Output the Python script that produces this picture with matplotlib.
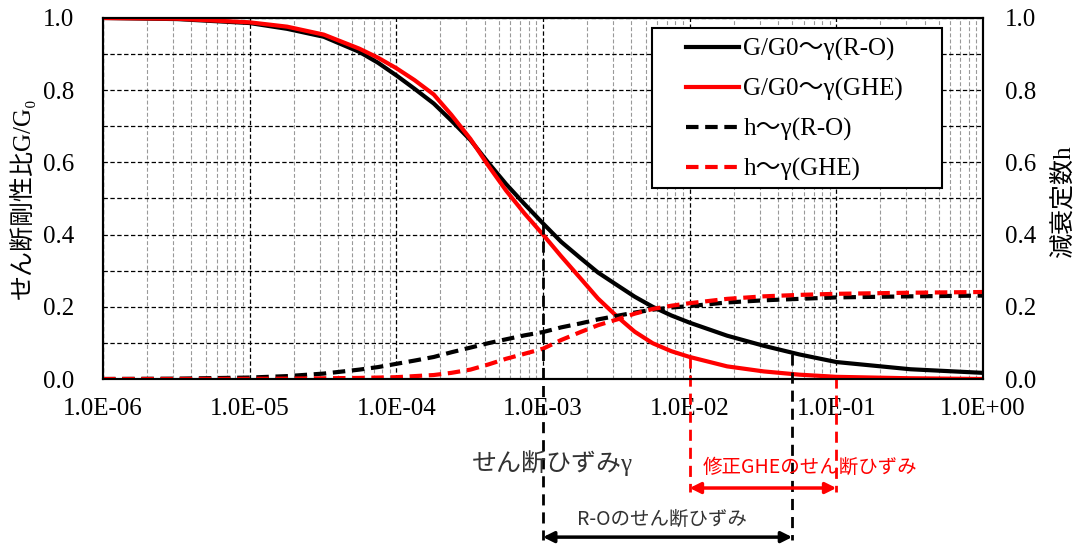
import numpy as np
import matplotlib
matplotlib.use("Agg")
import matplotlib.pyplot as plt
from matplotlib.ticker import FuncFormatter, FixedLocator, MultipleLocator, NullFormatter
from matplotlib.lines import Line2D
from matplotlib.patches import Rectangle

plt.rcParams['font.family'] = ['Liberation Serif', 'Noto Sans CJK JP', 'DejaVu Serif']

# shear strain
strain = [1.0e-6, 3.2e-6, 1.0e-5, 1.8e-5, 3.2e-5, 5.6e-5, 7.5e-5, 1.0e-4, 1.33e-4, 1.8e-4,
          2.37e-4, 3.2e-4, 4.22e-4, 5.6e-4, 7.5e-4, 1.0e-3, 1.33e-3, 1.8e-3, 2.37e-3, 3.2e-3,
          4.22e-3, 5.6e-3, 7.5e-3, 1.0e-2, 1.8e-2, 3.2e-2, 5.6e-2, 1.0e-1, 3.2e-1, 1.0]

g_ro = [1.000, 0.997, 0.986, 0.970, 0.948, 0.906, 0.876, 0.841, 0.804, 0.763,
        0.716, 0.662, 0.600, 0.540, 0.484, 0.431, 0.380, 0.335, 0.295, 0.260,
        0.228, 0.200, 0.176, 0.156, 0.120, 0.092, 0.068, 0.047, 0.027, 0.017]
g_ghe = [1.000, 0.998, 0.988, 0.976, 0.954, 0.915, 0.890, 0.861, 0.828, 0.788,
         0.732, 0.665, 0.592, 0.522, 0.458, 0.400, 0.340, 0.279, 0.223, 0.173,
         0.131, 0.099, 0.077, 0.061, 0.035, 0.021, 0.012, 0.006, 0.002, 0.000]
h_ro = [0.000, 0.001, 0.004, 0.008, 0.015, 0.026, 0.033, 0.042, 0.051, 0.061,
        0.074, 0.087, 0.099, 0.110, 0.121, 0.130, 0.143, 0.154, 0.165, 0.175,
        0.184, 0.192, 0.198, 0.202, 0.212, 0.218, 0.222, 0.226, 0.229, 0.231]
h_ghe = [0.000, 0.000, 0.0005, 0.001, 0.002, 0.003, 0.004, 0.005, 0.008, 0.011,
         0.017, 0.026, 0.040, 0.056, 0.070, 0.084, 0.108, 0.130, 0.149, 0.165,
         0.181, 0.194, 0.203, 0.210, 0.222, 0.229, 0.233, 0.236, 0.239, 0.241]

labels = ['G/G0～γ(R-O)', 'G/G0～γ(GHE)', 'h～γ(R-O)', 'h～γ(GHE)']

# strain ranges marked under the chart, with the G/G0 level where each marker starts
ro_range = [1.0e-3, 5.0e-2]
ro_level = [0.431, 0.069]
ghe_range = [1.0e-2, 1.0e-1]
ghe_level = [0.061, 0.006]

W, H = 1080, 544
fig = plt.figure(figsize=(W / 100, H / 100), dpi=100)
ax = fig.add_axes([103 / W, 1 - 379 / H, 880 / W, 361 / H])
ax2 = ax.twinx()

ax.set_xscale('log')
ax.set_xlim(1e-6, 1.0)
ax.set_ylim(0, 1.0)
ax2.set_ylim(0, 1.0)

decades = [10.0 ** k for k in range(-6, 1)]
minors = [m * d for d in decades[:-1] for m in range(2, 10)]
ax.xaxis.set_major_locator(FixedLocator(decades))
ax.xaxis.set_minor_locator(FixedLocator(minors))
ax.xaxis.set_major_formatter(FuncFormatter(lambda v, p: f"{v:.1E}"))
ax.xaxis.set_minor_formatter(NullFormatter())
for a in (ax, ax2):
    a.yaxis.set_major_locator(MultipleLocator(0.2))
    a.yaxis.set_minor_locator(MultipleLocator(0.1))
    a.yaxis.set_major_formatter(FuncFormatter(lambda v, p: f"{v:.1f}"))
    a.yaxis.set_minor_formatter(NullFormatter())

ax.tick_params(axis='x', which='both', length=0, labelsize=18, pad=14)
ax.tick_params(axis='y', which='both', length=0, labelsize=18, pad=21)
ax2.tick_params(axis='y', which='both', length=0, labelsize=18, pad=16)

ax.grid(True, axis='y', which='both', color='black', lw=0.9, ls=(0, (3.5, 2)))
ax.grid(True, axis='x', which='major', color='black', lw=0.9, ls=(0, (3.5, 2)))
ax.grid(True, axis='x', which='minor', color='#999999', lw=0.8, ls=(0, (3.5, 2)))
for a in (ax, ax2):
    for s in a.spines.values():
        s.set_linewidth(1.5)
        s.set_color('black')

dash = (0, (3, 1.6))
ax2.plot(strain, g_ro, color='black', lw=3)
ax2.plot(strain, g_ghe, color='red', lw=3)
ax2.plot(strain, h_ro, color='black', lw=3, ls=dash)
ax2.plot(strain, h_ghe, color='red', lw=3, ls=dash)

# range markers below the axis
y_ro_bot, y_ghe_bot = -0.446, -0.313
y_ro_arrow, y_ghe_arrow = -0.438, -0.302
for xv, lv in zip(ro_range, ro_level):
    ax2.plot([xv, xv], [lv, y_ro_bot], color='black', lw=2, ls=(0, (4, 2.5)), clip_on=False)
for xv, lv in zip(ghe_range, ghe_level):
    ax2.plot([xv, xv], [lv, y_ghe_bot], color='red', lw=2, ls=(0, (4, 2.5)), clip_on=False)
ax2.annotate('', xy=(ro_range[0], y_ro_arrow), xytext=(ro_range[1], y_ro_arrow),
             arrowprops=dict(arrowstyle='<|-|>', color='black', lw=2.5, mutation_scale=16,
                             shrinkA=0, shrinkB=0), annotation_clip=False)
ax2.annotate('', xy=(ghe_range[0], y_ghe_arrow), xytext=(ghe_range[1], y_ghe_arrow),
             arrowprops=dict(arrowstyle='<|-|>', color='red', lw=2.5, mutation_scale=16,
                             shrinkA=0, shrinkB=0), annotation_clip=False)

fig.text(810 / W, 1 - 467 / H, '修正GHEのせん断ひずみ', color='red', fontsize=14,
         family=['Noto Sans CJK JP'], ha='center', va='center')
fig.text(662 / W, 1 - 519 / H, 'R-Oのせん断ひずみ', color='#333333', fontsize=14,
         family=['Noto Sans CJK JP'], ha='center', va='center')

# axis titles
fig.text(552 / W, 1 - 463 / H, 'せん断ひずみγ', color='#333333', fontsize=18,
         ha='center', va='center')
fig.text(22 / W, 1 - 198 / H, 'せん断剛性比G/G₀', fontsize=18, rotation=90,
         ha='center', va='center')
fig.text(1063 / W, 1 - 202 / H, '減衰定数h', fontsize=18, rotation=90,
         ha='center', va='center')

# legend with a plain square frame
frame = Rectangle((652 / W, 1 - 188 / H), 290 / W, 160 / H, transform=fig.transFigure,
                  facecolor='white', edgecolor='black', lw=1.5, zorder=10)
fig.add_artist(frame)
handles = [Line2D([], [], color='black', lw=3),
           Line2D([], [], color='red', lw=3),
           Line2D([], [], color='black', lw=3, ls=dash),
           Line2D([], [], color='red', lw=3, ls=dash)]
leg = fig.legend(handles, labels, loc='upper left', bbox_to_anchor=(686 / W, 1 - 38 / H),
                 frameon=False, fontsize=18, handlelength=2.1, handletextpad=0.2,
                 labelspacing=0.68, borderpad=0, borderaxespad=0)
leg.set_zorder(11)

fig.savefig('out.png', dpi=100)
